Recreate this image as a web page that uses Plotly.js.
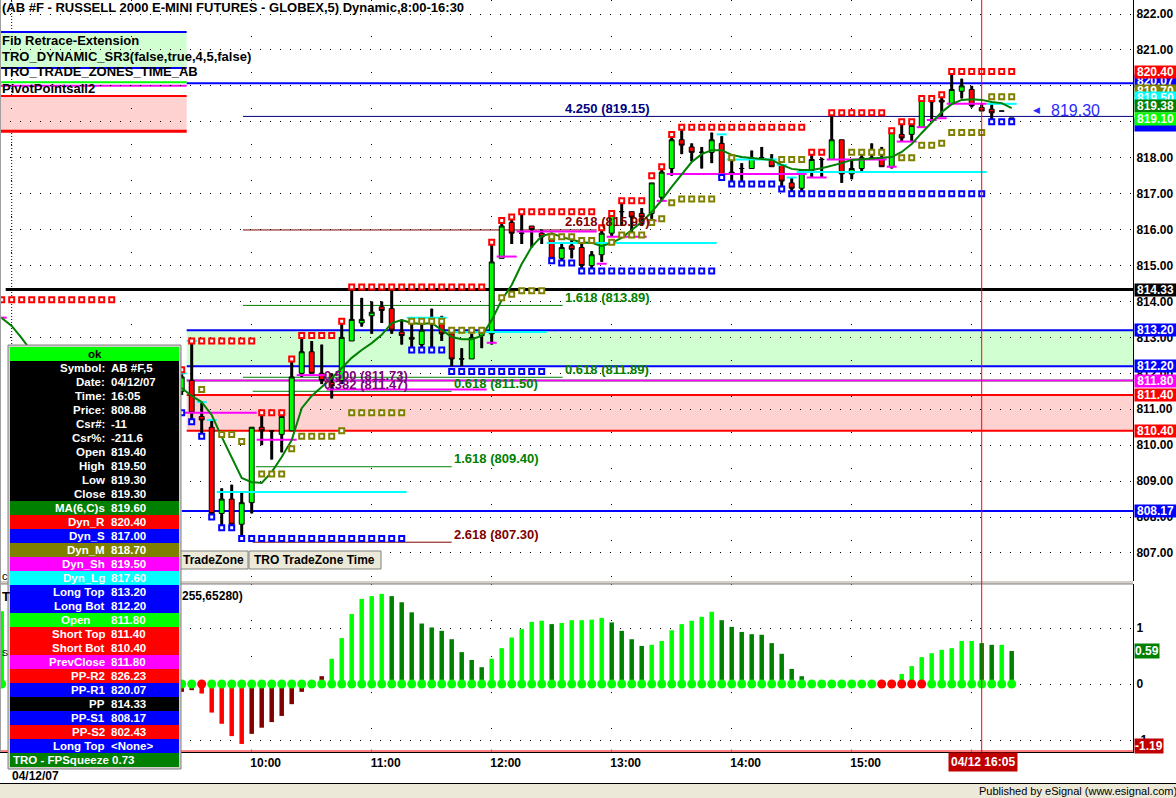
<!DOCTYPE html>
<html><head><meta charset="utf-8">
<script src="https://cdn.plot.ly/plotly-3.0.1.min.js"></script>
<style>html,body{margin:0;padding:0;background:#fff;}#chart{width:1176px;height:798px;}</style>
</head><body><div id="chart"></div>
<script>
// ================= DATA =================
// 5-minute bars, first visible bar 09:25, last 16:20 (bar index 0 = 10:00)
const firstBarTime = '09:25';
const barOpen  = [811.5,811.8,810.8,810.5,808.1,808.5,807.8,808.4,810.5,810.4,810.3,810.4,812.0,812.6,812.0,811.75,811.8,812.9,813.4,813.6,813.85,813.8,813.15,813.0,812.8,813.4,813.4,813.1,812.4,812.4,813.05,813.1,815.2,816.2,815.9,816.1,815.9,815.8,815.2,815.55,815.5,815.0,815.3,815.9,816.5,816.5,816.45,816.45,816.9,817.7,818.5,818.3,818.15,818.15,818.4,817.55,817.7,817.7,818.0,817.95,817.8,817.3,817.15,817.65,817.95,817.95,818.5,817.55,817.7,818.0,817.95,817.75,818.65,818.65,818.85,819.6,819.6,819.5,819.85,819.9,819.4,819.35,819.3,819.1];
const barHigh  = [812.0,812.9,811.2,810.7,808.8,808.9,808.7,810.5,810.9,810.4,810.8,812.4,813.1,812.9,812.8,812.0,813.4,814.4,814.1,814.0,814.0,814.4,813.5,813.5,813.4,813.8,813.6,813.1,812.7,813.1,813.2,815.6,816.2,816.3,816.5,816.1,816.0,815.8,815.6,815.8,815.6,815.4,816.1,816.5,816.8,816.5,816.6,817.3,817.7,818.6,818.8,818.4,818.3,818.7,818.6,817.95,817.85,818.2,818.3,818.1,817.8,817.45,817.65,818.15,818.0,819.25,818.5,817.95,818.2,818.4,818.3,818.8,819.0,819.0,819.6,819.6,819.75,820.45,820.2,820.0,819.5,819.5,819.3,819.1];
const barLow   = [811.4,810.6,810.2,808.0,807.7,807.7,807.4,808.1,810.0,809.6,809.8,810.4,811.9,812.0,811.7,811.3,811.7,812.9,813.3,813.1,813.4,813.1,812.8,812.6,812.6,812.7,812.9,812.2,812.2,812.4,812.7,812.8,815.2,815.6,815.6,815.5,815.6,815.1,815.1,815.2,814.9,814.8,815.1,815.8,816.1,815.8,816.1,816.3,816.8,817.5,818.1,817.9,817.7,817.85,817.4,817.25,817.3,817.7,817.95,817.75,817.15,817.05,817.05,817.45,817.45,817.95,817.3,817.4,817.6,817.95,817.75,817.7,818.45,818.45,818.85,819.05,819.15,819.5,819.65,819.4,819.3,819.05,819.3,819.1];
const barClose = [811.9,810.9,810.7,808.1,808.5,807.8,808.4,810.5,810.4,810.4,810.8,811.9,812.6,812.0,811.8,811.65,813.0,813.5,813.5,813.7,813.75,813.2,813.05,812.95,813.2,813.4,813.1,812.4,812.4,813.0,813.15,815.1,816.1,815.9,815.9,816.0,815.8,815.2,815.5,815.45,815.0,815.3,815.9,816.4,816.5,816.35,816.35,817.3,817.6,818.5,818.35,818.15,818.15,818.5,817.45,817.6,817.7,818.0,818.0,817.75,817.35,817.15,817.65,817.95,817.95,818.5,817.55,817.7,818.0,817.95,817.75,818.7,818.55,818.9,819.6,819.55,819.55,819.9,820.0,819.45,819.3,819.25,819.3,819.1];
const maValues = [811.59,811.37,811.20,810.84,810.23,809.64,809.09,808.97,808.95,809.25,809.67,810.14,811.03,811.37,811.62,811.87,812.15,812.43,812.65,812.84,813.07,813.40,813.48,813.40,813.37,813.40,813.21,813.01,812.95,812.95,813.04,813.48,814.04,814.46,815.04,815.52,815.82,815.90,815.79,815.71,815.65,815.63,815.54,815.63,815.77,815.99,816.21,816.49,816.82,817.19,817.55,817.88,818.10,818.21,818.21,818.08,818.02,817.99,817.96,817.94,817.80,817.69,817.66,817.66,817.71,817.77,817.85,817.94,817.96,817.96,817.99,818.02,818.16,818.38,818.69,818.99,819.27,819.49,819.61,819.63,819.61,819.55,819.52,819.38];
const dynR = [812.1,812.9,812.9,812.9,812.9,812.9,812.9,812.9,810.9,810.9,810.9,812.4,813.05,813.05,813.05,813.05,813.45,814.4,814.4,814.4,814.4,814.4,814.4,814.4,814.4,814.4,814.4,814.4,814.4,814.4,814.4,815.65,816.25,816.35,816.5,816.5,816.5,816.5,816.5,816.5,816.5,816.5,816.05,816.45,816.8,816.8,816.8,817.5,817.75,818.65,818.85,818.85,818.85,818.85,818.85,818.85,818.85,818.85,818.85,818.85,818.85,818.85,818.85,818.15,818.15,819.25,819.25,819.25,819.25,819.25,819.25,818.75,819.0,819.0,819.65,819.65,819.75,820.4,820.4,820.4,820.4,820.4,820.4,820.4];
const dynS = [810.9,810.65,810.25,808.0,807.7,807.7,807.4,807.4,807.4,807.4,807.4,807.4,807.4,807.4,807.4,807.4,807.4,807.4,807.4,807.4,807.4,807.4,807.4,812.65,812.65,812.65,812.65,812.05,812.05,812.05,812.05,812.05,812.05,812.05,812.05,812.05,812.05,815.13,815.07,815.07,814.85,814.85,814.85,814.85,814.85,814.85,814.85,814.85,814.85,814.85,814.85,814.85,814.85,814.85,817.45,817.27,817.27,817.27,817.27,817.27,817.13,817.0,817.0,817.0,817.0,817.0,817.0,817.0,817.0,817.0,817.0,817.0,817.0,817.0,817.0,817.0,817.0,817.0,817.0,817.0,817.0,819.0,819.0,819.0];
const dynM = [null,null,811.55,null,810.3,810.3,810.1,null,809.2,809.2,809.2,809.9,810.25,810.25,810.25,810.25,810.4,810.9,810.9,810.9,810.9,810.9,810.9,813.45,813.45,813.45,813.45,813.2,813.2,813.2,813.2,null,814.1,814.2,814.3,814.3,814.3,815.8,815.8,815.8,815.7,815.7,null,815.65,815.85,815.85,815.85,816.2,816.3,816.75,816.85,816.85,816.85,816.85,null,818.0,null,null,null,null,817.95,817.95,817.95,null,null,null,null,818.15,818.15,818.15,818.15,null,818.0,818.0,818.35,818.35,818.4,818.7,818.7,818.7,818.7,819.7,819.7,819.7];
const dynSh = [810.9,810.9,810.9,810.9,810.9,810.9,810.9,810.9,810.15,810.15,810.15,810.15,811.95,811.95,811.95,811.55,811.55,811.55,811.55,811.55,811.55,811.55,811.55,811.55,811.55,811.55,811.55,811.55,811.55,811.55,811.55,812.85,815.25,815.25,815.95,815.95,815.95,815.95,815.95,815.95,815.95,815.95,815.05,815.8,815.8,815.8,815.8,816.25,816.8,817.55,817.55,817.55,817.55,817.55,817.55,817.55,817.55,817.55,817.55,817.55,817.55,817.55,817.55,817.45,817.45,817.95,817.95,817.95,817.95,817.95,817.95,817.75,818.45,818.45,818.85,819.05,819.1,819.5,819.5,819.5,819.5,null,null,null];
const dynLg = [812.0,812.9,811.2,810.7,808.7,808.7,808.7,808.7,808.7,808.7,808.7,808.7,808.7,808.7,808.7,808.7,808.7,808.7,808.7,808.7,808.7,808.7,808.7,813.55,813.55,813.55,813.55,813.15,813.15,813.15,813.15,813.15,813.15,813.15,813.15,813.15,813.15,815.63,815.63,815.63,815.63,815.63,815.63,815.63,815.63,815.63,815.63,815.63,815.63,815.63,815.63,815.63,815.63,815.63,818.65,817.95,817.95,817.95,817.95,817.95,817.8,817.45,817.6,817.6,817.6,817.6,817.6,817.6,817.6,817.6,817.6,817.6,817.6,817.6,817.6,817.6,817.6,817.6,817.6,817.6,817.6,819.5,819.5,819.5];
// FP squeeze histogram (lower pane)
const sqzValues = [-0.14,-0.11,-0.17,-0.51,-0.71,-0.93,-1.07,-0.89,-0.78,-0.68,-0.57,-0.36,-0.14,0,0.14,0.45,0.82,1.25,1.52,1.57,1.61,1.57,1.46,1.28,1.08,1.01,0.95,0.80,0.57,0.43,0.30,0.45,0.64,0.83,0.98,1.11,1.13,1.07,1.09,1.14,1.14,1.15,1.18,1.10,0.95,0.80,0.68,0.70,0.77,0.96,1.07,1.13,1.20,1.29,1.14,1.02,0.93,0.89,0.88,0.73,0.54,0.27,0.14,0.06,0,0,0,0,0,0,0,0,0.18,0.32,0.48,0.55,0.61,0.64,0.77,0.77,0.73,0.70,0.70,0.59];
const sqzBarState = 'rrRRRRRrrrrrrrrGGGGGGggggggggggGGGGGGgGGGGGggggGGGGGGGggggggggggggggggggGGGGGGGGggGg';
const sqzDotState = 'ggrgggggggggggggggggggggggggggggggggggggggggggggggggggggggggggggggggggrrrrrgggggggggg';
// earlier-session remnants visible at far left (bar index -25 ...)
const preFirstIndex = -25;
const preDynR = [814.05,814.05,814.05,814.05,814.05,814.05,814.05,814.05,814.05,814.05,814.05,814.05];
const preMA = [813.54,813.32,812.98,812.6];
const preDynSh = [813.55];
const preSqz = [1.3];
// price levels
const zoneLevels = {longTop:813.20, longBot:812.20, open:811.80, shortTop:811.40, shortBot:810.40, prevClose:811.80};
const prevZone = [821.5, 820.5, 820.1, 820.0, 819.72, 818.74];
const ppR1 = 820.07, ppMid = 814.33, ppS1 = 808.17;
const fibLabels = ['4.250 (819.15)','2.618 (815.99)','1.618 (813.89)','0.618 (811.89)','0.618 (811.50)','1.618 (809.40)','2.618 (807.30)'];
const fibPrices = [819.15, 815.99, 813.89, 811.89, 811.50, 809.40, 807.30];
const fibMidLabels = ['0.500 (811.73)', '0.382 (811.47)'];
const fibMidPrices = [811.73, 811.47];
const priceTicks = [807,808,809,810,811,812,813,814,815,816,817,818,819,820,821,822];
const timeTickLabels = ['8:00','9:00','10:00','11:00','12:00','13:00','14:00','15:00','16:00'];
const tagValues = [820.07, 820.40, 819.70, 819.50, 819.38, 819.00, 819.10, 814.33, 813.20, 812.20, 811.80, 811.40, 810.40, 808.17];
const tagColors = ['#0000ff','#ff0000','#808000','#00ffff','#008000','#0000ff','#00ff00','#000000','#0000ff','#0000ff','#ff00ff','#ff0000','#ff0000','#0000ff'];
const sqzTagValues = [0.59, -1.19];
const sqzTagColors = ['#008000', '#c00000'];
const dwLabels = ['Symbol:','Date:','Time:','Price:','Csr#:','Csr%:','Open','High','Low','Close','MA(6,C)s','Dyn_R','Dyn_S','Dyn_M','Dyn_Sh','Dyn_Lg','Long Top','Long Bot','Open','Short Top','Short Bot','PrevClose','PP-R2','PP-R1','PP','PP-S1','PP-S2','Long Top'];
const dwValues = ['AB #F,5','04/12/07','16:05','808.88','-11','-211.6','819.40','819.50','819.30','819.30','819.60','820.40','817.00','818.70','819.50','817.60','813.20','812.20','811.80','811.40','810.40','811.80','826.23','820.07','814.33','808.17','802.43','<None>'];
const dwBg = ['#000000','#000000','#000000','#000000','#000000','#000000','#000000','#000000','#000000','#000000','#008000','#ff0000','#0000ff','#808000','#ff00ff','#00ffff','#0000ff','#0000ff','#00ff00','#ff0000','#ff0000','#ff00ff','#ff0000','#0000ff','#000000','#0000ff','#ff0000','#0000ff'];

// ================= BUILD =================
const FONT = 'Liberation Sans, Arial, sans-serif';
const W = 1133, H = 752;
const px = x => x / W;
const py = y => (H - y) / H;
const [fh, fm] = firstBarTime.split(':').map(Number);
const firstIdx = ((fh * 60 + fm) - 600) / 5;
const xs = barOpen.map((_, i) => firstIdx + i);
const preXs = n => Array.from({length: n}, (_, i) => preFirstIndex + i);
const XR = [-25.17, 88.13];

function steps(vals, xa) {
  const sx = [], sy = [];
  let i = 0;
  while (i < vals.length) {
    if (vals[i] == null) { i++; continue; }
    let j = i;
    while (j + 1 < vals.length && vals[j + 1] === vals[i]) j++;
    sx.push(xa[i] - 0.5, xa[j] + 0.5, null); sy.push(vals[i], vals[i], null);
    i = j + 1;
  }
  return {sx, sy};
}

const traces = [];
traces.push({type: 'candlestick', x: xs, open: barOpen, high: barHigh, low: barLow, close: barClose,
  xaxis: 'x', yaxis: 'y', whiskerwidth: 0, hoverinfo: 'none',
  increasing: {line: {color: '#000', width: 1}, fillcolor: '#00ff00'},
  decreasing: {line: {color: '#000', width: 1}, fillcolor: '#ff0000'}});
const wx = [], wy = [];
xs.forEach((x, i) => {
  const top = Math.max(barOpen[i], barClose[i]), bot = Math.min(barOpen[i], barClose[i]);
  if (barHigh[i] > top) { wx.push(x, x, null); wy.push(barHigh[i], top, null); }
  if (barLow[i] < bot) { wx.push(x, x, null); wy.push(bot, barLow[i], null); }
});
traces.push({type: 'scatter', mode: 'lines', x: wx, y: wy, line: {color: '#000', width: 3}, hoverinfo: 'none'});
const sh = steps(dynSh, xs), lg = steps(dynLg, xs), psh = steps(preDynSh, preXs(preDynSh.length));
traces.push({type: 'scatter', mode: 'lines', x: sh.sx.concat(psh.sx), y: sh.sy.concat(psh.sy), line: {color: '#ff00ff', width: 2}, hoverinfo: 'none'});
traces.push({type: 'scatter', mode: 'lines', x: lg.sx, y: lg.sy, line: {color: '#00ffff', width: 2}, hoverinfo: 'none'});
traces.push({type: 'scatter', mode: 'lines', x: xs, y: maValues, line: {color: '#008000', width: 2}, hoverinfo: 'none'});
traces.push({type: 'scatter', mode: 'lines', x: preXs(preMA.length), y: preMA, line: {color: '#008000', width: 2}, hoverinfo: 'none'});
function squares(x, y, c) {
  return {type: 'scatter', mode: 'markers', x, y, hoverinfo: 'none',
    marker: {symbol: 'square', size: 5, color: '#ffffff', line: {color: c, width: 2}}};
}
traces.push(squares(xs, dynM, '#808000'));
traces.push(squares(xs, dynS, '#0000ff'));
traces.push(squares(xs, dynR, '#ff0000'));
traces.push(squares(preXs(preDynR.length), preDynR, '#ff0000'));
const barCol = {G: '#00ff00', g: '#008000', R: '#ff0000', r: '#800000'};
traces.push({type: 'bar', x: xs.concat(preXs(preSqz.length)), y: sqzValues.concat(preSqz), xaxis: 'x', yaxis: 'y2', width: 0.45,
  marker: {color: sqzBarState.split('').map(s => barCol[s]).concat(['#00ff00']), line: {width: 0}}, hoverinfo: 'none'});
traces.push({type: 'scatter', mode: 'markers', x: xs.concat(preXs(preSqz.length)), y: xs.map(() => 0).concat([0]), xaxis: 'x', yaxis: 'y2',
  marker: {symbol: 'circle', size: 9, color: sqzDotState.split('').map(s => s === 'r' ? '#ff0000' : '#00ff00').concat(['#00ff00']), line: {width: 0}}, hoverinfo: 'none'});

// ---- shapes ----
const shapes = [];
const hrect = (x0, x1, y0, y1, fill) => ({type: 'rect', xref: 'x', yref: 'y', x0, x1, y0, y1, fillcolor: fill, line: {width: 0}, layer: 'below'});
const hline = (x0, x1, y, color, w, dash) => ({type: 'line', xref: 'x', yref: 'y', x0, x1, y0: y, y1: y, line: {color, width: w, dash: dash || 'solid'}, layer: 'below'});
const S0 = -6.5; // session start boundary (9:30)
shapes.push(hrect(XR[0], S0, prevZone[1], prevZone[0], '#d2ffd2'));
shapes.push(hrect(XR[0], S0, prevZone[5], prevZone[4], '#ffd2d2'));
shapes.push(hrect(S0, XR[1], zoneLevels.longBot, zoneLevels.longTop, '#d2ffd2'));
shapes.push(hrect(S0, XR[1], zoneLevels.shortBot, zoneLevels.shortTop, '#ffd2d2'));
shapes.push(hline(XR[0], S0, prevZone[0], '#0000ff', 2));
shapes.push(hline(XR[0], S0, prevZone[1], '#0000ff', 2));
shapes.push(hline(XR[0], S0, prevZone[2], '#00ff00', 2));
shapes.push(hline(XR[0], S0, prevZone[3], '#ff00ff', 2));
shapes.push(hline(XR[0], S0, prevZone[4], '#ff0000', 2));
shapes.push(hline(XR[0], S0, prevZone[5], '#ff0000', 3));
shapes.push(hline(S0, XR[1], ppR1, '#0000ff', 2));
shapes.push(hline(-24.6, XR[1], ppMid, '#000000', 3));
shapes.push(hline(S0, XR[1], zoneLevels.longTop, '#0000ff', 2));
shapes.push(hline(S0, XR[1], zoneLevels.longBot, '#0000ff', 2));
shapes.push(hline(S0, XR[1], zoneLevels.open, '#00ff00', 2));
shapes.push(hline(S0, XR[1], zoneLevels.prevClose, '#ff00ff', 2));
shapes.push(hline(S0, XR[1], zoneLevels.shortTop, '#ff0000', 2));
shapes.push(hline(S0, XR[1], zoneLevels.shortBot, '#ff0000', 2));
shapes.push(hline(-7, XR[1], ppS1, '#0000ff', 2));
const fibCol = ['#000080','#800000','#008000','#008000','#008000','#008000','#800000'];
const fibSpan = [[-0.87, XR[1]], [-0.87, 34.5], [-0.87, 31.1], [-0.87, 31.1], [0.1, 20], [0.4, 20], [0.1, 20]];
fibPrices.forEach((p, i) => shapes.push(hline(fibSpan[i][0], fibSpan[i][1], p, fibCol[i], 1)));
// day separator dotted line
shapes.push({type: 'line', xref: 'x', yref: 'paper', x0: -24, x1: -24, y0: py(581), y1: 1, line: {color: '#000', width: 1, dash: '1px,2px'}, layer: 'below'});
// pane separator
shapes.push({type: 'rect', xref: 'paper', yref: 'paper', x0: 0, x1: 1, y0: py(584), y1: py(581), fillcolor: '#d4d0c8', line: {width: 0}, layer: 'above'});
shapes.push({type: 'line', xref: 'paper', yref: 'paper', x0: 0, x1: 1, y0: py(584), y1: py(584), line: {color: '#808080', width: 1}, layer: 'above'});
shapes.push({type: 'line', xref: 'paper', yref: 'paper', x0: 0, x1: 1, y0: py(751), y1: py(751), line: {color: '#ff0000', width: 1}, layer: 'above'});
// cursor
shapes.push({type: 'line', xref: 'x', yref: 'paper', x0: 73, x1: 73, y0: 0, y1: 1, line: {color: '#ff0000', width: 1}, layer: 'above'});
// left border
shapes.push({type: 'line', xref: 'paper', yref: 'paper', x0: px(0.5), x1: px(0.5), y0: 0, y1: 1, line: {color: '#a0a0a0', width: 1}, layer: 'above'});
const prect = (x0, y0, x1, y1, fill, line) => ({type: 'rect', xref: 'paper', yref: 'paper', x0: px(x0), x1: px(x1), y0: py(y1), y1: py(y0), fillcolor: fill, line: line || {width: 0}, layer: 'above'});
// buttons
shapes.push(prect(180, 551, 248, 569, '#ece9d8', {color: '#808080', width: 1}));
shapes.push(prect(249, 551, 381, 569, '#ece9d8', {color: '#808080', width: 1}));
// data window
shapes.push(prect(8, 345, 181, 769, '#d4d0c8', {color: '#808080', width: 1}));
shapes.push(prect(10, 347, 179, 361, '#00ff00'));
dwBg.forEach((c, i) => shapes.push(prect(10, 361 + 14 * i, 179, 375 + 14 * i, c)));
shapes.push(prect(10, 753, 179, 767, '#008000'));
// status bar
shapes.push({type: 'line', xref: 'paper', yref: 'paper', x0: 0, x1: 1176 / W, y0: py(783.5), y1: py(783.5), line: {color: '#000', width: 1}});
shapes.push(prect(0, 784, 1176, 798, '#ece9d8'));

// ---- annotations ----
const ann = [];
function txt(text, x, y, o) {
  const a = {text, x: px(x), y: py(y), xref: 'paper', yref: 'paper', showarrow: false, xanchor: 'left', yanchor: 'middle',
    borderpad: 0, font: {family: FONT, size: 12, color: '#000', weight: 'bold'}};
  return Object.assign(a, o || {});
}
const F13 = {family: FONT, size: 13, color: '#000', weight: 'bold'};
ann.push(txt('(AB #F - RUSSELL 2000 E-MINI FUTURES - GLOBEX,5) Dynamic,8:00-16:30', 1, 8, {font: F13}));
['Fib Retrace-Extension', 'TRO_DYNAMIC_SR3(false,true,4,5,false)', 'TRO_TRADE_ZONES_TIME_AB', 'PivotPointsall2'].forEach((t, i) => ann.push(txt(t, 1, 40 + 16 * i, {font: F13})));
// fib labels
fibLabels.forEach((t, i) => ann.push({text: t, x: i < 4 ? 31.2 : 20.1, y: fibPrices[i], xref: 'x', yref: 'y', xanchor: 'left', yanchor: 'middle', yshift: 8, showarrow: false, borderpad: 0,
  font: {family: FONT, size: 13, color: fibCol[i], weight: 'bold'}}));
fibMidLabels.forEach((t, i) => ann.push({text: t, x: 7.1, y: fibMidPrices[i], xref: 'x', yref: 'y', xanchor: 'left', yanchor: 'middle', yshift: 8, showarrow: false, borderpad: 0,
  font: {family: FONT, size: 13, color: '#800080', weight: 'bold'}}));
// right tags
const tagShift = [2, 0, 6, 6, 2, -3, -1, 0, 0, 0, 0, 0, 0, 0];
tagValues.forEach((v, i) => ann.push({text: i === 5 ? '&nbsp;' : v.toFixed(2), x: px(1134), y: v, xref: 'paper', yref: 'y', xanchor: 'left', yanchor: 'middle', showarrow: false,
  bgcolor: tagColors[i], borderpad: 0, width: 41, height: 12, yshift: tagShift[i], font: {family: FONT, size: 12, color: '#ffffff', weight: 'bold'}}));
sqzTagValues.forEach((v, i) => ann.push({text: v.toFixed(2), x: px(1134), y: v, xref: 'paper', yref: 'y2', xanchor: 'left', yanchor: 'middle', showarrow: false,
  bgcolor: sqzTagColors[i], borderpad: 0, yshift: i === 1 ? 5 : 0, font: {family: FONT, size: 12, color: '#ffffff', weight: 'bold'}}));
ann.push(txt('\u25C0', 1032, 110, {font: {family: 'DejaVu Sans', size: 9, color: '#2a2aff'}}));
ann.push(txt('819.30', 1050, 110, {font: {family: FONT, size: 16, color: '#2a2aff'}}));
// lower pane title remnants
ann.push(txt('T', 1, 596, {font: {family: FONT, size: 13, color: '#000', weight: 'bold'}}));
ann.push(txt('255,65280)', 181, 596));
ann.push(txt('S', 1, 653, {font: {family: FONT, size: 9, color: '#000'}}));
ann.push(txt('c', 1, 576, {font: {family: FONT, size: 11, color: '#000'}}));
// buttons
ann.push(txt('TradeZone', 182, 560));
ann.push(txt('TRO TradeZone Time', 253, 560));
// data window
const DWF = {family: FONT, size: 11.5, color: '#ffffff', weight: 'bold'};
ann.push(txt('ok', 94.5, 354, {xanchor: 'center', font: {family: FONT, size: 11.5, color: '#000', weight: 'bold'}}));
dwLabels.forEach((l, i) => {
  const yc = 368 + 14 * i;
  const isOpenRow = (l === 'Open' && dwBg[i] === '#00ff00');
  ann.push(txt(l, isOpenRow ? 91 : 106, yc, {xanchor: 'right', font: DWF}));
  ann.push(txt(dwValues[i], 110, yc, {font: DWF}));
});
ann.push(txt('TRO - FPSqueeze 0.73', 12, 760, {font: DWF}));
// bottom texts
ann.push(txt('04/12 16:05', 983, 761.5, {xanchor: 'center', bgcolor: '#c00000', borderpad: 2, font: {family: FONT, size: 12, color: '#ffffff', weight: 'bold'}}));
ann.push(txt('04/12/07', 11, 776));
ann.push(txt('Published by eSignal (www.esignal.com)', 1178, 791, {xanchor: 'right', font: {family: FONT, size: 11, color: '#000'}}));

const tickFont = {family: FONT, size: 12, color: '#000', weight: 'bold'};
const layout = {
  width: 1176, height: 798, margin: {l: 0, r: 43, t: 0, b: 46},
  paper_bgcolor: '#ffffff', plot_bgcolor: '#ffffff', showlegend: false, hovermode: false, dragmode: false,
  xaxis: {range: XR, anchor: 'y2', type: 'linear', rangeslider: {visible: false},
    tickvals: [-24, -12, 0, 12, 24, 36, 48, 60, 72],
    ticktext: timeTickLabels.map(t => (t === '8:00' || t === '9:00' || t === '16:00') ? '' : t),
    ticks: 'inside', ticklen: 3, tickcolor: '#00ffff', ticklabelshift: 14, tickfont: tickFont,
    showgrid: true, gridcolor: '#000', gridwidth: 1, griddash: '1px,35px', zeroline: false,
    showline: true, linecolor: '#000', linewidth: 1, automargin: false, fixedrange: true},
  yaxis: {domain: [1 - 581 / H, 1], range: [806.22, 822.39], side: 'right', anchor: 'x',
    tickvals: priceTicks, ticktext: priceTicks.map(v => v.toFixed(2)), ticks: '', tickfont: tickFont,
    showgrid: true, gridcolor: '#000', gridwidth: 1, griddash: '1px,9px', zeroline: false,
    showline: true, linecolor: '#000', linewidth: 1, automargin: false, fixedrange: true},
  yaxis2: {domain: [0, 168 / H], range: [-1.214, 1.786], side: 'right', anchor: 'x',
    tickvals: [-1, 0, 1], ticktext: ['-1', '0', '1'], ticks: '', tickfont: tickFont,
    showgrid: true, gridcolor: '#000', gridwidth: 1, griddash: '1px,9px', zeroline: false,
    showline: true, linecolor: '#000', linewidth: 1, automargin: false, fixedrange: true},
  shapes, annotations: ann
};
Plotly.newPlot('chart', traces, layout, {staticPlot: true, displayModeBar: false});
</script>
</body></html>
